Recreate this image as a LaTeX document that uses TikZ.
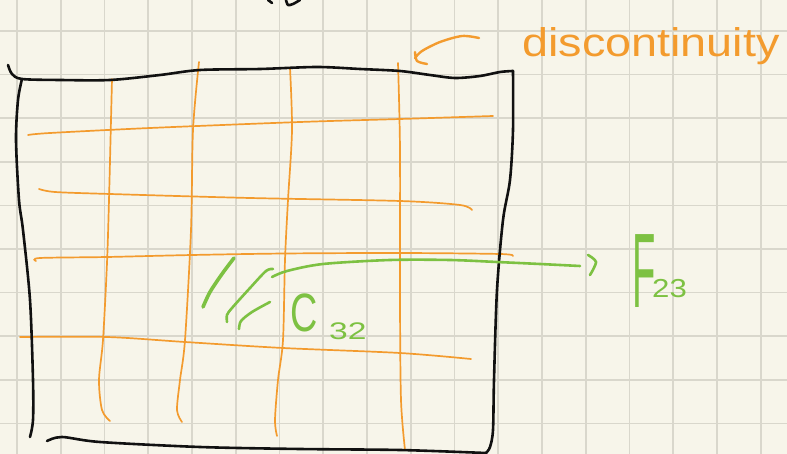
\documentclass[tikz,border=0pt]{standalone}
\usepackage{fontspec}
\setmainfont{Liberation Sans}
\definecolor{paper}{HTML}{F7F5EA}
\definecolor{gridc}{HTML}{D9D7CC}
\definecolor{ink}{HTML}{111111}
\definecolor{orng}{HTML}{F39B2E}
\definecolor{grn}{HTML}{7DC142}
\begin{document}
\begin{tikzpicture}[x=1pt,y=-1pt,
  gridline/.style={draw=gridc,line width=1.6pt},
  frame/.style={draw=ink,line width=2.6pt,line cap=round,line join=round},
  mesh/.style={draw=orng,line width=1.7pt,line cap=round},
  gstroke/.style={draw=grn,line width=3.6pt,line cap=round},
  gline/.style={draw=grn,line width=2.6pt,line cap=round},
  lbl/.style={inner sep=0pt,anchor=base west}]
\fill[paper] (0,0) rectangle (787,454);
\useasboundingbox (0,0) rectangle (787,454);
% grid
\foreach \i in {0,...,17} {\draw[gridline] ({17+43.75*\i},0) -- ({17+43.75*\i},454);}
\foreach \j in {0,...,9} {\draw[gridline] (0,{31+43.6*\j}) -- (787,{31+43.6*\j});}
% top partial mark
\draw[frame] (268,0) -- (272,3);
\draw[frame] plot[smooth] coordinates {(286,0) (288,5) (293,4) (300,0)};
% orange mesh - verticals
\draw[mesh] plot[smooth] coordinates {(112,79) (111,120) (109,200) (107,263) (103,340) (99,380) (102,410) (110,421)};
\draw[mesh] plot[smooth] coordinates {(199,62) (193,130) (191,230) (185,340) (180,380) (177,410) (182,422)};
\draw[mesh] plot[smooth] coordinates {(290,68) (292,130) (288,200) (285,260) (283,340) (278,380) (275,420) (277,436)};
\draw[mesh] plot[smooth] coordinates {(398,63) (400,150) (400,300) (401,400) (405,450)};
% orange mesh - horizontals
\draw[mesh] plot[smooth] coordinates {(28,135) (50,133) (150,128) (300,122) (400,119) (493,116)};
\draw[mesh] plot[smooth] coordinates {(39,189) (55,192) (110,194) (250,198) (400,201) (460,205) (472,210)};
\draw[mesh] plot[smooth] coordinates {(36,261) (40,258) (107,257) (192,255) (285,253.5) (400,253) (500,254) (513,256)};
\draw[mesh] plot[smooth] coordinates {(20,337) (107,337) (185,342) (283,348) (400,353) (471,359)};
% black frame
\draw[frame] plot[smooth] coordinates {(8,65) (12,74) (22,79) (60,80) (110,80) (160,75) (200,70) (260,69) (317,67) (360,69) (400,71) (430,75) (455,78) (480,76) (500,72) (513,71)};
\draw[frame] plot[smooth] coordinates {(22,79) (18,100) (16,140) (19,200) (23,230) (30,300) (33,380) (33,420) (30,437)};
\draw[frame] plot[smooth] coordinates {(513,71) (513,130) (510,180) (503,220) (497,290) (494,380) (493,430) (490,447) (486,453)};
\draw[frame] plot[smooth] coordinates {(47,441) (62,437) (100,442) (200,447) (300,449) (400,450) (486,453)};
% discontinuity pointer
\draw[mesh,line width=2.4pt] plot[smooth] coordinates {(479,38) (462,36) (440,42) (422,51) (415,58)} plot[smooth] coordinates {(415,52) (417,61) (427,64)};
\node[lbl,text=orng,font=\fontsize{40}{44}\selectfont] (disc) at (522,57) {\scalebox{1.17}[1]{discontinuity}};
% green strokes
\draw[gstroke] plot[smooth] coordinates {(234,258) (222,274) (210,292) (203,307)};
\draw[gline] plot[smooth] coordinates {(273,269) (266,271) (250,288) (232,308) (227,315) (227,322)};
\draw[gline] plot[smooth] coordinates {(270,302) (252,312) (241,321) (239,329)};
\draw[gline] plot[smooth] coordinates {(272,277) (287,271) (323,264) (390,260) (450,260) (497,262) (540,264) (580,266)};
\draw[gline] plot[smooth] coordinates {(588,255) (596,262) (590,275)};
\node[lbl,text=grn,font=\fontsize{54}{58}\selectfont] (C) at (290,331) {\scalebox{0.7}[1]{C}};
\node[lbl,text=grn,font=\fontsize{24}{26}\selectfont] (Csub) at (329,339) {\scalebox{1.4}[1]{32}};
\node[lbl,text=grn,font=\fontsize{106}{110}\selectfont] (F) at (632,308) {\scalebox{0.36}[1]{F}};
\node[lbl,text=grn,font=\fontsize{26}{28}\selectfont] (Fsub) at (652,298) {\scalebox{1.2}[1]{23}};
\end{tikzpicture}
\end{document}
